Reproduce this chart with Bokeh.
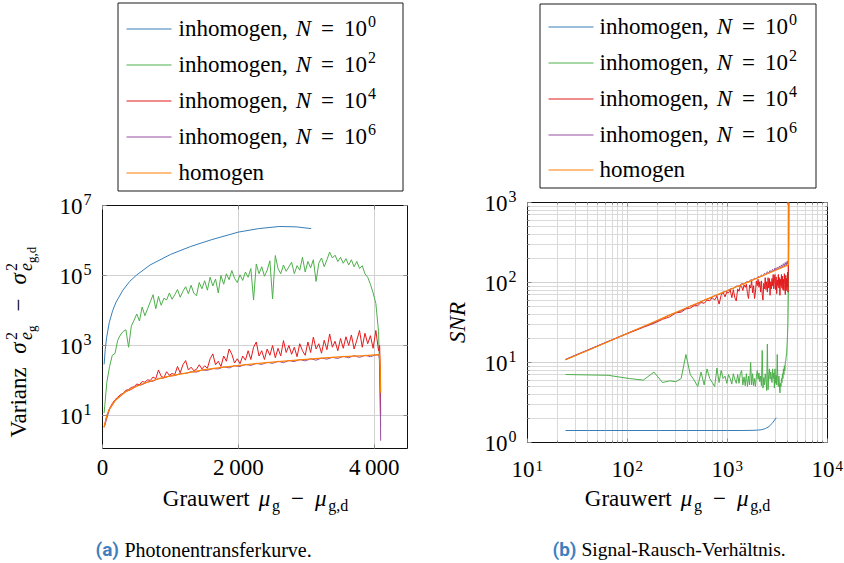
import math
from bokeh.plotting import figure
from bokeh.models import Range1d, FixedTicker, LinearAxis, LogAxis, CustomJSTickFormatter
from bokeh.layouts import row, column
from bokeh.core.properties import value
from bokeh.embed import file_html
from bokeh.resources import INLINE

# ---------------- data ----------------
gray = list(range(24, 4065, 40))                  # sampled grey values, 102 points
gray_coarse = list(range(24, 4025, 80)) + [4064]  # 52 points
tail = [4080, 4090, 4095]                         # saturation end

legend_exps = ["0", "2", "4", "6", None]          # inhomogen N = 10^k ..., homogen
colors = ["#377eb8", "#4daf4a", "#e41a1c", "#984ea3", "#ff7f00"]

# (a) Photonentransferkurve: log10 of variance
blue_x = [24, 40, 60, 100, 150, 200, 300, 400, 500, 700, 1000, 1300, 1600, 2000, 2300, 2600, 2850, 3073]
blue_var_log10 = [2.46, 2.88, 3.22, 3.66, 4.00, 4.24, 4.58, 4.83, 5.01, 5.30, 5.60, 5.83, 6.02, 6.24,
                  6.34, 6.40, 6.39, 6.34]

green_var_log10 = [
    1.07, 1.95, 2.40, 2.72, 2.77, 3.15, 3.30, 3.40, 3.45, 2.95,
    3.55, 3.72, 3.90, 3.70, 4.10, 3.85, 4.05, 4.25, 4.45, 4.05,
    4.40, 4.15, 4.35, 4.30, 4.50, 4.32, 4.45, 4.60, 4.38, 4.55,
    4.68, 4.48, 4.72, 4.50, 4.42, 4.80, 4.62, 4.85, 4.58, 4.95,
    4.70, 4.90, 4.50, 5.00, 4.75, 5.05, 4.88, 5.14, 4.92, 4.80,
    5.02, 4.86, 5.10, 4.95, 5.20, 4.30, 5.33, 5.05, 5.25, 4.98,
    5.15, 5.42, 4.33, 5.57, 5.20, 5.05, 5.30, 5.12, 5.25, 5.38,
    5.05, 5.28, 5.15, 5.52, 5.10, 5.40, 5.22, 5.45, 4.83, 5.35,
    5.50, 5.25, 5.45, 5.67, 5.50, 5.58, 5.40, 5.52, 5.35, 5.48,
    5.30, 5.45, 5.25, 5.40, 5.20, 5.28, 5.05, 4.95, 4.75, 4.50,
    4.20, 3.40]
green_var_tail = [2.30, 1.20, 0.70]

red_var_log10 = [
    0.67, 1.00, 1.20, 1.34, 1.45, 1.52, 1.60, 1.63, 1.72, 1.74,
    1.80, 1.82, 1.90, 1.88, 1.97, 1.95, 2.02, 2.00, 2.10, 2.05,
    2.30, 2.12, 2.08, 2.25, 2.15, 2.20, 2.17, 2.40, 2.22, 2.45,
    2.57, 2.30, 2.38, 2.28, 2.32, 2.45, 2.33, 2.42, 2.35, 2.62,
    2.76, 2.45, 2.55, 2.40, 2.70, 2.55, 2.90, 2.75, 2.50, 2.62,
    2.48, 2.70, 2.58, 2.85, 2.60, 2.95, 3.10, 2.70, 2.85, 2.60,
    2.90, 2.72, 3.00, 2.65, 2.92, 2.70, 3.14, 2.80, 3.00, 2.75,
    2.95, 2.68, 3.05, 2.85, 2.72, 3.10, 2.80, 3.24, 2.90, 3.05,
    2.78, 3.15, 2.88, 3.33, 2.95, 3.12, 2.85, 3.20, 2.92, 3.25,
    3.00, 3.30, 2.90, 3.15, 3.43, 2.95, 3.35, 3.05, 3.28, 2.92,
    3.43, 2.85]
red_var_tail = [3.00, 2.00, 1.00]

purple_var_log10 = [
    0.66, 1.18, 1.43, 1.55, 1.69, 1.74, 1.85, 1.88, 1.96, 1.98,
    2.06, 2.07, 2.13, 2.14, 2.20, 2.20, 2.25, 2.24, 2.30, 2.29,
    2.34, 2.33, 2.39, 2.36, 2.42, 2.40, 2.46, 2.43, 2.49, 2.46,
    2.52, 2.49, 2.55, 2.51, 2.57, 2.54, 2.60, 2.56, 2.62, 2.58,
    2.64, 2.61, 2.66, 2.63, 2.69, 2.65, 2.71, 2.66, 2.72, 2.68,
    2.73, 2.74]
purple_var_tail = [2.60, 1.20, 0.28]

orange_x = [24, 64, 104, 184, 264, 344, 464, 584, 744, 904, 1104, 1304, 1504, 1784, 2024, 2304,
            2584, 2904, 3224, 3544, 3864, 4064, 4080, 4090, 4095]
orange_var_log10 = [0.67, 1.00, 1.19, 1.42, 1.56, 1.68, 1.80, 1.90, 2.00, 2.09, 2.17, 2.24, 2.31,
                    2.38, 2.43, 2.49, 2.54, 2.59, 2.64, 2.68, 2.71, 2.74, 2.73, 2.30, 1.65]

# (b) Signal-Rausch-Verhaeltnis: log10 of SNR
blue_snr_x = [24, 40, 60, 100, 200, 400, 700, 1000, 1400, 1800, 2000, 2200, 2400, 2600, 2800, 3073]
blue_snr_log10 = [0.15, 0.15, 0.15, 0.15, 0.15, 0.15, 0.15, 0.15, 0.15, 0.152, 0.155, 0.16, 0.175,
                  0.20, 0.24, 0.31]

green_snr_log10 = [
    0.85, 0.84, 0.80, 0.78, 0.88, 0.75, 0.77, 0.76, 0.80, 1.10,
    0.85, 0.78, 0.70, 0.88, 0.72, 0.92, 0.80, 0.75, 0.70, 0.93,
    0.75, 0.90, 0.80, 0.83, 0.74, 0.85, 0.80, 0.73, 0.86, 0.79,
    0.74, 0.85, 0.74, 0.86, 0.90, 0.72, 0.82, 0.71, 0.86, 0.70,
    0.83, 0.72, 1.00, 0.72, 0.86, 0.71, 0.80, 0.70, 0.82, 0.90,
    0.79, 0.87, 0.76, 0.83, 0.71, 1.15, 0.68, 0.81, 0.72, 0.86,
    0.78, 0.65, 1.23, 0.66, 0.85, 0.92, 0.79, 0.88, 0.82, 0.75,
    0.92, 0.80, 0.87, 0.68, 0.92, 0.74, 0.84, 0.72, 1.10, 0.78,
    0.70, 0.83, 0.73, 0.62, 0.74, 0.70, 0.80, 0.75, 0.86, 0.80,
    0.92, 0.85, 0.96, 0.90, 1.00, 1.02, 1.08, 1.12, 1.22, 1.35,
    1.50, 1.90]
green_snr_tail = [2.40, 2.90, 3.60]

red_snr_log10 = [
    1.035, 1.262, 1.37, 1.44, 1.49, 1.54, 1.57, 1.62, 1.63, 1.67,
    1.68, 1.71, 1.71, 1.75, 1.74, 1.78, 1.77, 1.81, 1.78, 1.83,
    1.73, 1.84, 1.88, 1.82, 1.88, 1.87, 1.91, 1.81, 1.91, 1.81,
    1.77, 1.92, 1.89, 1.96, 1.95, 1.90, 1.97, 1.94, 1.98, 1.86,
    1.80, 1.97, 1.93, 2.02, 1.87, 1.96, 1.80, 1.88, 2.02, 1.96,
    2.04, 1.94, 2.01, 1.88, 2.02, 1.85, 1.78, 1.99, 1.92, 2.06,
    1.91, 2.01, 1.88, 2.06, 1.93, 2.05, 1.84, 2.01, 1.92, 2.05,
    1.96, 2.10, 1.92, 2.03, 2.10, 1.91, 2.07, 1.86, 2.03, 1.96,
    2.10, 1.93, 2.06, 1.84, 2.04, 1.96, 2.10, 1.93, 2.08, 1.91,
    2.04, 1.90, 2.11, 1.98, 1.85, 2.09, 1.90, 2.05, 1.94, 2.13,
    1.88, 2.17]
red_snr_tail = [2.50, 3.00, 3.60]

purple_snr_log10 = [
    1.04, 1.375, 1.50, 1.595, 1.645, 1.705, 1.735, 1.78, 1.80, 1.835,
    1.85, 1.88, 1.89, 1.92, 1.925, 1.955, 1.955, 1.985, 1.98, 2.01,
    2.005, 2.035, 2.03, 2.055, 2.045, 2.075, 2.065, 2.095, 2.08, 2.115,
    2.10, 2.135, 2.115, 2.15, 2.13, 2.165, 2.14, 2.18, 2.155, 2.19,
    2.17, 2.205, 2.18, 2.22, 2.19, 2.235, 2.205, 2.25, 2.215, 2.265,
    2.23, 2.25]
purple_snr_tail = [2.30, 2.80, 3.60]

orange_snr_x = [24, 40, 64, 100, 160, 250, 400, 630, 1000, 1600, 2500, 3200, 3950, 4064, 4080, 4090, 4095]
orange_snr_log10 = [1.035, 1.15, 1.26, 1.365, 1.475, 1.58, 1.69, 1.795, 1.90, 2.005, 2.11, 2.165,
                    2.214, 2.221, 2.25, 2.70, 3.60]

# axes
left_xticks = [0, 2000, 4000]
left_xtick_labels = ["0", "2\u2009000", "4\u2009000"]
left_yticks = [1e1, 1e3, 1e5, 1e7]
left_ytick_exps = ["1", "3", "5", "7"]
right_xticks = [1e1, 1e2, 1e3, 1e4]
right_xtick_exps = ["1", "2", "3", "4"]
right_yticks = [1e0, 1e1, 1e2, 1e3]
right_ytick_exps = ["0", "1", "2", "3"]

# ---------------- text helpers ----------------
SERIF = "Liberation Serif"
SANS = "Roboto"
RM = {' ': .25, ',': .25, '.': .25, '-': .333, '(': .333, ')': .333, '=': .564, '\u2212': .564,
      '\u2009': .167, 'G': .722, 'P': .556, 'R': .667, 'S': .556, 'V': .722, 'N': .722,
      'a': .444, 'b': .5, 'c': .444, 'd': .5, 'e': .444, 'f': .333, 'g': .5, 'h': .5, 'i': .278,
      'k': .5, 'l': .278, 'm': .778, 'n': .5, 'o': .5, 'r': .333, 's': .389, 't': .278, 'u': .5,
      'v': .5, 'w': .722, 'z': .444, '\u00e4': .444}
IT = {'N': .667, 'S': .5, 'R': .611, 'e': .444, '\u03bc': .576, '\u03c3': .55}
K_H = 0.30   # empirical baseline correction (fraction of font size), horizontal text
K_V = 0.42   # same for rotated text


def twidth(t, size, it=False):
    tb = IT if it else RM
    return sum(tb.get(c, RM.get(c, 0.5)) for c in t) * size


def text_fig(ox, oy, w, h):
    p = figure(width=w, height=h, x_range=Range1d(0, w), y_range=Range1d(h, 0),
               output_backend="svg", toolbar_location=None, x_axis_location=None,
               y_axis_location=None, min_border=0, frame_align=False)
    p.grid.visible = False
    p.outline_line_color = None
    p.background_fill_color = "white"
    p.border_fill_color = "white"
    return dict(p=p, ox=ox, oy=oy)


def put(T, text, px, py, size, it=False, bold=False, align="left", angle=0.0,
        color="black", font=SERIF):
    style = "italic" if it else ("bold" if bold else "normal")
    if angle == 0:
        py = py - K_H * size
    else:
        px = px - K_V * size
    T["p"].text(x=[px - T["ox"]], y=[py - T["oy"]], text=[text], text_font=value(font),
                text_font_size=value(f"{size}px"), text_font_style=value(style),
                text_align=value(align), text_baseline=value("alphabetic"), angle=angle,
                text_color=color)


def rich(T, parts, px, py, angle=0.0, anchor="left"):
    d = 0.0
    pos = []
    for (t, sz, it, r, gap, adv) in parts:
        d += gap
        pos.append(d)
        if adv:
            d += twidth(t, sz, it)
    off = 0.0 if anchor == "left" else -d / 2.0
    for (t, sz, it, r, gap, adv), dd in zip(parts, pos):
        dd += off
        if angle == 0:
            put(T, t, px + dd, py - r, sz, it)
        else:
            put(T, t, px - r, py - dd, sz, it, angle=angle)


def frame_line(T, pts, color, lw=1):
    T["p"].line(x=[x - T["ox"] for x, y in pts], y=[y - T["oy"] for x, y in pts],
                line_color=color, line_width=lw)


def sample(T, x0, x1, y, color):
    T["p"].quad(left=[x0 - T["ox"]], right=[x1 - T["ox"]], top=[y - T["oy"]],
                bottom=[y + 1 - T["oy"]], fill_color=color, line_color=None)


S, s, ss = 23, 16, 12

# ---------------- geometry (page pixels) ----------------
L = dict(fx=102, fy=448, w=305, h=243, xr=(0, 4490), yr=(1.14, 1e7), xlog=False)
R = dict(fx=527, fy=442, w=300, h=240, xr=(10, 1e4), yr=(1, 1e3), xlog=True)


def page_x(P, v):
    a, b = P["xr"]
    if P["xlog"]:
        return P["fx"] + (math.log10(v) - math.log10(a)) / (math.log10(b) - math.log10(a)) * P["w"]
    return P["fx"] + (v - a) / (b - a) * P["w"]


def page_y(P, v):
    a, b = P["yr"]
    return P["fy"] - (math.log10(v) - math.log10(a)) / (math.log10(b) - math.log10(a)) * P["h"]


def make_main(P, ox, oy, width, height, x_type, xticks, xminor, yticks, yminor):
    left = P["fx"] - ox
    top = P["fy"] - P["h"] - oy
    right = width - left - P["w"]
    bottom = height - top - P["h"]
    p = figure(width=width, height=height, x_range=Range1d(*P["xr"]), y_range=Range1d(*P["yr"]),
               x_axis_type=x_type, y_axis_type="log", output_backend="svg", toolbar_location=None,
               min_border_left=left, min_border_right=right, min_border_top=top,
               min_border_bottom=bottom, frame_align=False)
    p.outline_line_color = "#111111"
    p.outline_line_width = 1
    p.outline_line_alpha = 1
    p.background_fill_color = "white"
    p.border_fill_color = "white"
    xt = FixedTicker(ticks=xticks, minor_ticks=xminor)
    yt = FixedTicker(ticks=yticks, minor_ticks=yminor)
    p.add_layout(LogAxis() if x_type == "log" else LinearAxis(), "above")
    p.add_layout(LogAxis(), "right")
    p.xaxis.ticker = xt
    p.yaxis.ticker = yt
    p.xgrid.ticker = xt
    p.ygrid.ticker = yt
    for ax in p.axis:
        ax.formatter = CustomJSTickFormatter(code="return ''")
        ax.axis_line_color = None
        ax.major_label_text_font_size = "1px"
        ax.major_label_standoff = 0
        ax.major_tick_in = 4
        ax.major_tick_out = 0
        ax.major_tick_line_color = "#8a8a8a"
        ax.minor_tick_in = 2
        ax.minor_tick_out = 0
        ax.minor_tick_line_color = "#8a8a8a" if xminor else None
    for g in (p.xgrid, p.ygrid):
        g.grid_line_color = "#d2d2d2"
        g.grid_line_width = 1
        if xminor:
            g.minor_grid_line_color = "#dadada"
            g.minor_grid_line_width = 1
    return p


# left column: 420 wide; right column: 424 wide; height 563
legA = text_fig(0, 0, 420, 192)
stripA = text_fig(0, 192, 100, 258)
pA = make_main(L, 100, 192, 320, 258, "linear", left_xticks, [], left_yticks, [])
botA = text_fig(0, 450, 420, 113)

legB = text_fig(420, 0, 424, 189)
stripB = text_fig(420, 189, 104, 266)
r_minor_x = [k * 10 ** e for e in range(1, 4) for k in range(2, 10)]
r_minor_y = [k * 10 ** e for e in range(0, 3) for k in range(2, 10)]
pB = make_main(R, 524, 189, 320, 266, "log", right_xticks, r_minor_x, right_yticks, r_minor_y)
botB = text_fig(420, 455, 424, 108)

# ---- data lines (a)
pw = lambda arr: [10 ** v for v in arr]
pA.line(blue_x, pw(blue_var_log10), line_color=colors[0], line_width=1)
pA.line(gray + tail, pw(green_var_log10 + green_var_tail), line_color=colors[1], line_width=1)
pA.line(gray + tail, pw(red_var_log10 + red_var_tail), line_color=colors[2], line_width=1)
pA.line(gray_coarse + tail, pw(purple_var_log10 + purple_var_tail), line_color=colors[3], line_width=1)
pA.line(orange_x, pw(orange_var_log10), line_color=colors[4], line_width=1.2)

# ---- data lines (b)
pB.line(blue_snr_x, pw(blue_snr_log10), line_color=colors[0], line_width=1)
pB.line(gray + tail, pw(green_snr_log10 + green_snr_tail), line_color=colors[1], line_width=1)
pB.line(gray + tail, pw(red_snr_log10 + red_snr_tail), line_color=colors[2], line_width=1)
pB.line(gray_coarse + tail, pw(purple_snr_log10 + purple_snr_tail), line_color=colors[3], line_width=1)
pB.line(orange_snr_x, pw(orange_snr_log10), line_color=colors[4], line_width=1.2)


# ---- legends
def legend(T, box, line_x0, line_x1, text_x, row_y0, row_dy):
    (bx0, by0, bx1, by1) = box
    frame_line(T, [(bx0, by0), (bx1, by0), (bx1, by1), (bx0, by1), (bx0, by0)], "#1a1a1a", 1)
    for k, (c, e) in enumerate(zip(colors, legend_exps)):
        yk = round(row_y0 + row_dy * k)
        sample(T, line_x0, line_x1, yk, c)
        if e is None:
            parts = [("homogen", S, False, 0, 0, True)]
        else:
            parts = [("inhomogen,", S, False, 0, 0, True), ("N", S, True, 0, 8, True),
                     ("=", S, False, 0, 10, True), ("10", S, False, 0, 10, True),
                     (e, s, False, 9, 1, True)]
        rich(T, parts, text_x, yk + 6.5)


legend(legA, (117.5, 2.5, 402.5, 190.5), 126, 171, 178, 28, 36)
legend(legB, (539.5, 3.5, 815.5, 187.5), 548, 593, 599, 26.5, 35.7)


# ---- tick labels
def ytick_labels(T, P, ticks, exps):
    for t, e in zip(ticks, exps):
        y = page_y(P, t)
        put(T, "10", P["fx"] - 20, y + 8, S, align="right")
        put(T, e, P["fx"] - 19, y - 1, s)


ytick_labels(stripA, L, left_yticks, left_ytick_exps)
ytick_labels(stripB, R, right_yticks, right_ytick_exps)
for t, lab in zip(left_xticks, left_xtick_labels):
    put(botA, lab, page_x(L, t), 474, S, align="center")
for t, e in zip(right_xticks, right_xtick_exps):
    x = page_x(R, t)
    put(botB, "10", x + 7, 476, S, align="right")
    put(botB, e, x + 8, 469.5, 15)

# ---- axis labels
xlab = [("Grauwert", S, False, 0, 0, True), ("\u03bc", S, True, 0, 9, True), ("g", s, False, -5, 0, True),
        ("\u2212", S, False, 0, 11, True), ("\u03bc", S, True, 0, 11, True), ("g,d", s, False, -5, 0, True)]
rich(botA, xlab, 255, 505, anchor="center")
rich(botB, xlab, 677, 505, anchor="center")

ylab = [("Varianz", S, False, 0, 0, True), ("\u03c3", S, True, 0, 11, True), ("2", s, False, 10, 1, False),
        ("e", 18, True, -5, 0, True), ("g", 13, False, -8, 0, True), ("\u2212", S, False, 0, 14, True),
        ("\u03c3", S, True, 0, 14, True), ("2", s, False, 10, 1, False), ("e", 18, True, -5, 0, True),
        ("g,d", 13, False, -8, 0, True)]
rich(stripA, ylab, 28, 437, angle=math.pi / 2)
put(stripB, "SNR", 467, 322, S, it=True, align="center", angle=math.pi / 2)

# ---- captions
CAP = "#3f7fbf"
put(botA, "(a)", 95, 555, 19, bold=True, color=CAP, font=SANS)
put(botA, "Photonentransferkurve.", 124, 555, 20)
put(botB, "(b)", 552, 555, 19, bold=True, color=CAP, font=SANS)
put(botB, "Signal-Rausch-Verh\u00e4ltnis.", 581, 555, 19.5)

colA = column(legA["p"], row(stripA["p"], pA), botA["p"])
colB = column(legB["p"], row(stripB["p"], pB), botB["p"])
layout = row(colA, colB)
open("out.html", "w").write(file_html(layout, INLINE))
